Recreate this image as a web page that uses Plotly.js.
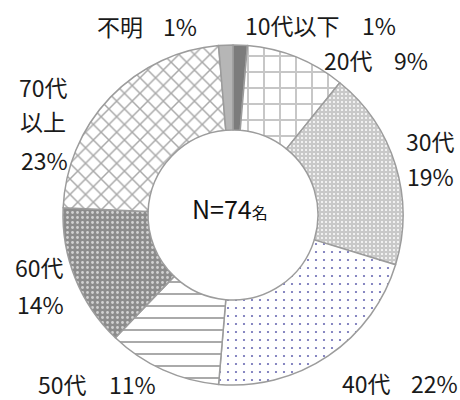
<!DOCTYPE html>
<html>
<head>
<meta charset="utf-8">
<script src="https://cdn.plot.ly/plotly-3.0.1.min.js"></script>
<style>html,body{margin:0;padding:0;background:#fff}#chart{width:460px;height:400px}</style>
</head>
<body>
<div id="chart"></div>
<script>
// ---- data ----
const categories = ['10代以下', '20代', '30代', '40代', '50代', '60代', '70代以上', '不明'];
const counts = [1, 7, 14, 16, 8, 10, 17, 1];
const totalLabel = 'N=';
const unitLabel = '名';

// ---- style (per slice) ----
const bgColors   = ['#7c7c7c', '#ffffff', '#c9c9c9', '#ffffff', '#ffffff', '#8c8c8c', '#ffffff', '#b6b6b6'];
const fgColors   = ['#7c7c7c', '#c6c6c6', '#ffffff', '#6c6cb4', '#a0a0a0', '#d2d2d2', '#a8a8a8', '#b6b6b6'];
const shapes     = ['', '+', '.', '.', '-', '.', 'x', ''];
const sizes      = [8, 16, 4, 8, 12, 5, 11, 8];
const solidities = [0.3, 0.23, 0.2, 0.06, 0.15, 0.25, 0.25, 0.3];

const total = counts.reduce((a, b) => a + b, 0);
const pct = counts.map(v => Math.round(v / total * 100) + '%');

// label layout in pixels (x, y from top)
const W = 460, H = 400;
const labelLayout = [
  { lines: [[292, 25]], pctPos: [379, 25] },
  { lines: [[348, 60]], pctPos: [411, 60] },
  { lines: [[430, 141]], pctPos: [430, 176] },
  { lines: [[366, 383]], pctPos: [434, 383] },
  { lines: [[62, 384]], pctPos: [132, 384] },
  { lines: [[39, 267]], pctPos: [40, 304] },
  { lines: [[43, 87], [43, 121]], pctPos: [44, 160] },
  { lines: [[120, 26]], pctPos: [180, 26] }
];
function splitLabel(s, n) {
  if (n === 1) return [s];
  const idx = s.indexOf('代') + 1;
  return [s.slice(0, idx), s.slice(idx)];
}
const font = { family: '"Noto Sans CJK JP", "Noto Sans", sans-serif', size: 23, color: '#1a1a1a' };
const annotations = [];
categories.forEach((c, i) => {
  const L = labelLayout[i];
  const parts = splitLabel(c, L.lines.length);
  L.lines.forEach((p, k) => {
    annotations.push({ text: parts[k], x: p[0] / W, y: 1 - p[1] / H, xref: 'paper', yref: 'paper',
      xanchor: 'center', yanchor: 'middle', showarrow: false, borderpad: 0, font: font });
  });
  annotations.push({ text: pct[i], x: L.pctPos[0] / W, y: 1 - L.pctPos[1] / H, xref: 'paper', yref: 'paper',
    xanchor: 'center', yanchor: 'middle', showarrow: false, borderpad: 0, font: font });
});
annotations.push({
  text: totalLabel + total + '<span style="font-size:16px">' + unitLabel + '</span>',
  x: 230 / W, y: 1 - 208 / H, xref: 'paper', yref: 'paper', xanchor: 'center', yanchor: 'middle',
  showarrow: false, borderpad: 0, font: { family: '"Noto Sans CJK JP", "Noto Sans", sans-serif', size: 25, color: '#111' }
});

const cx = 233, cy = 215, R = 170;
const trace = {
  type: 'pie',
  labels: categories,
  values: counts,
  sort: false,
  direction: 'clockwise',
  rotation: 0,
  hole: 0.5,
  textinfo: 'none',
  hoverinfo: 'label+percent',
  marker: {
    colors: bgColors,
    line: { color: '#9c9c9c', width: 1.5 },
    pattern: { shape: shapes, fgcolor: fgColors, bgcolor: bgColors, size: sizes, solidity: solidities, fillmode: 'replace' }
  },
  domain: { x: [(cx - R) / W, (cx + R) / W], y: [1 - (cy + R) / H, 1 - (cy - R) / H] }
};

Plotly.newPlot('chart', [trace], {
  width: W, height: H,
  margin: { l: 0, r: 0, t: 0, b: 0 },
  showlegend: false,
  paper_bgcolor: '#fff',
  annotations: annotations
}, { displayModeBar: false, staticPlot: true });
</script>
</body>
</html>
